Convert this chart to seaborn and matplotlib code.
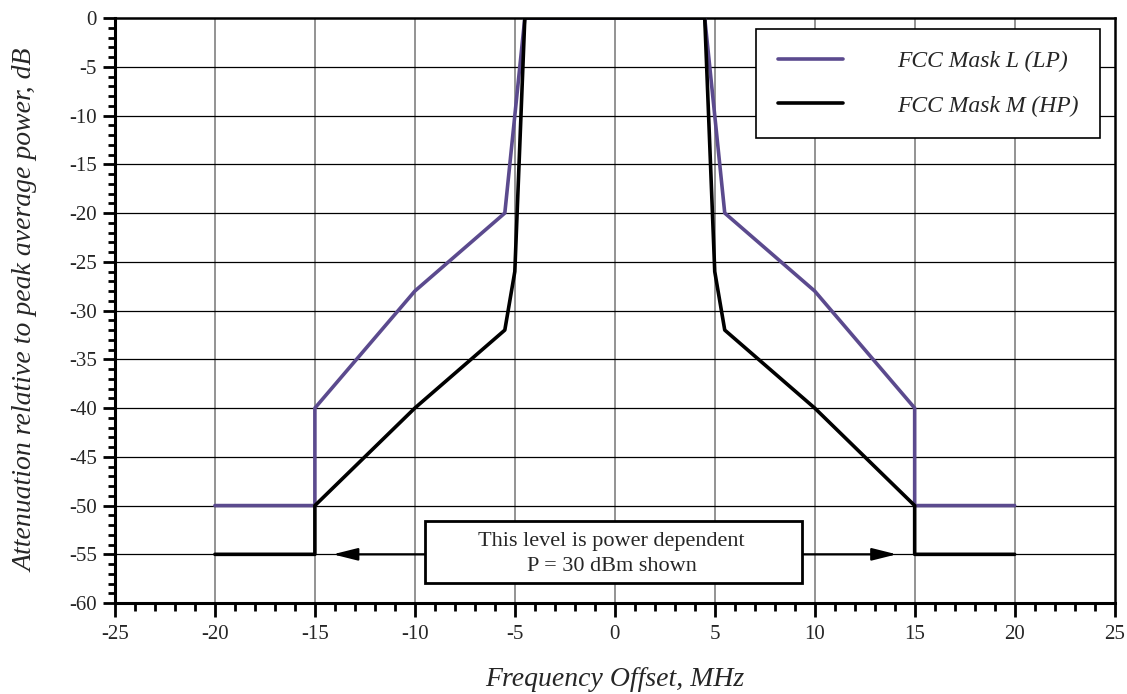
import numpy as np
import pandas as pd
import matplotlib
matplotlib.use("Agg")
import matplotlib.pyplot as plt
import seaborn as sns
from matplotlib.ticker import MultipleLocator
from matplotlib.patches import Rectangle

# Data
freq_L = [-20, -15, -15, -10, -5.5, -4.5, 4.5, 5.5, 10, 15, 15, 20]
att_L = [-50, -50, -40, -28, -20, 0, 0, -20, -28, -40, -50, -50]
freq_M = [-20, -15, -15, -10, -5.5, -5.0, -4.5, 4.5, 5.0, 5.5, 10, 15, 15, 20]
att_M = [-55, -55, -50, -40, -32, -26, 0, 0, -26, -32, -40, -50, -55, -55]
series_names = ["FCC Mask L (LP)", "FCC Mask M (HP)"]
colors = ["#5b4a8e", "#000000"]
note_text = "This level is power dependent\nP = 30 dBm shown"

df = pd.concat([
    pd.DataFrame({"f": freq_L, "a": att_L, "s": series_names[0]}),
    pd.DataFrame({"f": freq_M, "a": att_M, "s": series_names[1]}),
], ignore_index=True)

sns.set_style("white")
plt.rcParams["font.family"] = ["Liberation Serif", "DejaVu Serif"]
plt.rcParams["axes.unicode_minus"] = False

fig = plt.figure(figsize=(11.27, 6.94), dpi=100)
ax = fig.add_axes([0.102, 0.131, 0.887, 0.843])

sns.lineplot(data=df, x="f", y="a", hue="s", palette=colors, sort=False,
             estimator=None, units="s", linewidth=2.6, ax=ax, zorder=3)

ax.set_xlim(-25, 25)
ax.set_ylim(-60, 0)
ax.xaxis.set_major_locator(MultipleLocator(5))
ax.xaxis.set_minor_locator(MultipleLocator(1))
ax.yaxis.set_major_locator(MultipleLocator(5))
ax.yaxis.set_minor_locator(MultipleLocator(1))

ax.grid(False)
for xv in np.arange(-20, 25, 5):
    ax.axvline(xv, color="#808080", lw=1.2, zorder=1)
for yv in np.arange(-55, 0, 5):
    ax.axhline(yv, color="black", lw=0.9, zorder=1)

ax.tick_params(bottom=True, left=True, top=False, right=False, which="both")
ax.tick_params(axis="x", which="major", direction="out", length=10, width=2, labelsize=15, pad=6, color="black")
ax.tick_params(axis="x", which="minor", direction="out", length=6, width=2, color="black")
ax.tick_params(axis="y", which="major", direction="out", length=9, width=2, labelsize=15, pad=4, color="black")
ax.tick_params(axis="y", which="minor", direction="out", length=5, width=2, color="black")

ax.spines["left"].set_linewidth(2.2)
ax.spines["bottom"].set_linewidth(2.2)
ax.spines["top"].set_linewidth(1.8)
ax.spines["right"].set_linewidth(1.8)
for s in ax.spines.values():
    s.set_color("black")

ax.set_xlabel("Frequency Offset, MHz", fontsize=20, style="italic", labelpad=16)
ax.set_ylabel("Attenuation relative to peak average power, dB", fontsize=20, style="italic", labelpad=22)

# Annotation box and arrows
ax.add_patch(Rectangle((-9.5, -57.9), 18.85, 6.35, fc="white", ec="black", lw=2.0, zorder=5))
ax.text(-0.15, -55.0, note_text, ha="center", va="center",
        fontsize=16, linespacing=1.45, zorder=6)
arrow_kw = dict(arrowstyle="-|>,head_length=1.0,head_width=0.25", color="black", lw=1.6,
                mutation_scale=15, shrinkA=0, shrinkB=0)
ax.annotate("", xy=(-14.1, -55), xytext=(-9.5, -55), arrowprops=arrow_kw, zorder=4)
ax.annotate("", xy=(14.1, -55), xytext=(9.35, -55), arrowprops=arrow_kw, zorder=4)

handles, labels = ax.get_legend_handles_labels()
leg = ax.legend(handles, labels, loc="upper right", bbox_to_anchor=(0.985, 0.981),
                frameon=True, fancybox=False, edgecolor="black", framealpha=1,
                prop={"family": "Liberation Serif", "style": "italic", "size": 17},
                handlelength=2.75, handletextpad=2.3, borderpad=0.9, labelspacing=0.98,
                borderaxespad=0)
leg.get_frame().set_linewidth(1.2)
leg.set_zorder(7)

fig.savefig("out.png", dpi=100)
